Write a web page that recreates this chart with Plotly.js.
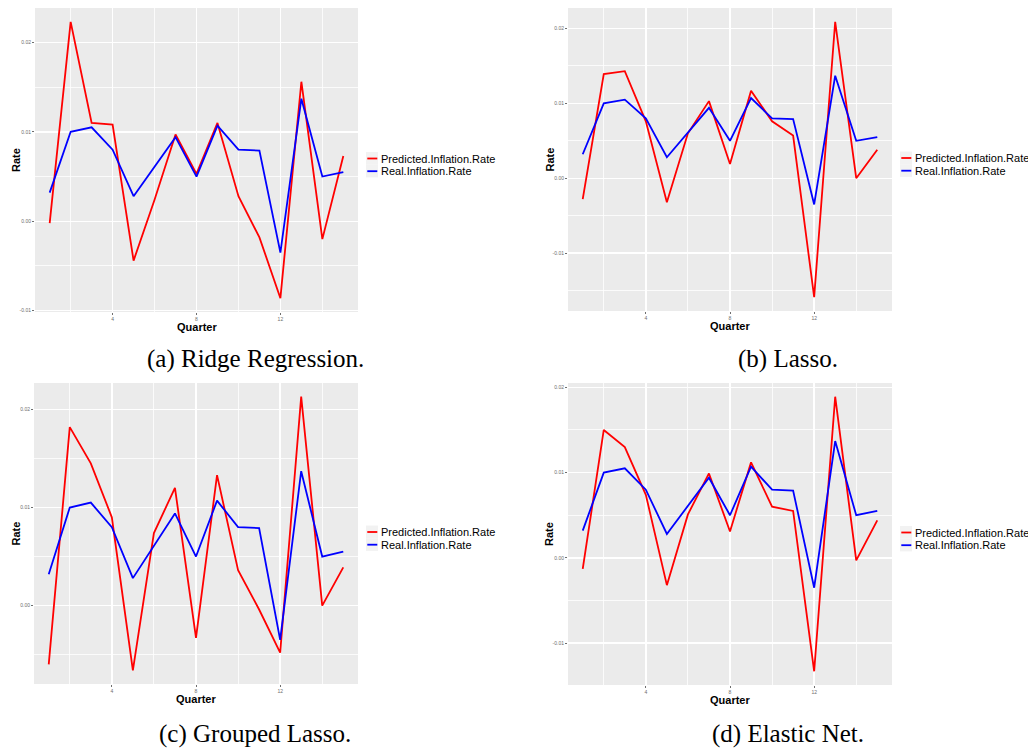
<!DOCTYPE html>
<html>
<head>
<meta charset="utf-8">
<script src="https://cdn.plot.ly/plotly-3.0.1.min.js"></script>
<style>
  html, body { margin: 0; padding: 0; background: #ffffff; }
  #chart { width: 1028px; height: 749px; }
</style>
</head>
<body>
<div id="chart"></div>
<script>
// Quarterly inflation: real rate versus the rate predicted by four regularised models
const quarters = [1, 2, 3, 4, 5, 6, 7, 8, 9, 10, 11, 12, 13, 14, 15];

const realRate = [0.0032, 0.0100, 0.0105, 0.0080, 0.0028, 0.0061, 0.0094, 0.0050,
                  0.0107, 0.0080, 0.0079, -0.0035, 0.0137, 0.0050, 0.0055];

const ridgePred = [-0.0002, 0.0223, 0.0110, 0.0108, -0.0044, 0.0024, 0.0097, 0.0053,
                   0.0110, 0.0028, -0.0018, -0.0086, 0.0156, -0.0020, 0.0073];

const lassoPred = [-0.0028, 0.0139, 0.0143, 0.0076, -0.0032, 0.0060, 0.0103, 0.0019,
                   0.0117, 0.0076, 0.0057, -0.0159, 0.0209, 0.0000, 0.0038];

const groupedLassoPred = [-0.0060, 0.0182, 0.0145, 0.0090, -0.0066, 0.0074, 0.0120, -0.0033,
                          0.0133, 0.0036, -0.0004, -0.0048, 0.0213, 0.0000, 0.0039];

const elasticNetPred = [-0.0013, 0.0150, 0.0130, 0.0074, -0.0032, 0.0051, 0.0099, 0.0031,
                        0.0112, 0.0060, 0.0055, -0.0133, 0.0189, -0.0003, 0.0044];

const seriesNames = ['Predicted.Inflation.Rate', 'Real.Inflation.Rate'];
const seriesColors = ['#FF0000', '#0000FF'];

const captions = ['(a) Ridge Regression.', '(b) Lasso.', '(c) Grouped Lasso.', '(d) Elastic Net.'];
const xTitle = 'Quarter';
const yTitle = 'Rate';

const xTickVals = [4, 8, 12];
const xTickText = ['4', '8', '12'];
const xMinorVals = [2, 6, 10, 14];
const yTickVals = [-0.01, 0, 0.01, 0.02];
const yTickText = ['-0.01', '0.00', '0.01', '0.02'];
const yMinorVals = [-0.015, -0.005, 0.005, 0.015];

const predictions = [ridgePred, lassoPred, groupedLassoPred, elasticNetPred];

// ---- page geometry (pixels) ----
const W = 1028, H = 749;
// each panel: [left, right, top, bottom] of the plotting area
const panels = [
  [35, 358, 8, 312],
  [568, 892, 8, 311],
  [34, 358, 383, 684],
  [568, 892, 383, 685]
];
const px = v => v / W;
const py = v => 1 - v / H;

const tickFont = { family: 'Liberation Sans, Arial, sans-serif', size: 5, color: '#6e6e6e' };
const titleFont = { family: 'Liberation Sans, Arial, sans-serif', size: 11, color: '#000000', weight: 'bold' };
const legendFont = { family: 'Liberation Sans, Arial, sans-serif', size: 11, color: '#000000' };
const captionFont = { family: 'Liberation Serif, Times New Roman, serif', size: 25, color: '#000000' };

const traces = [];
const layout = {
  width: W, height: H,
  autosize: false,
  margin: { l: 0, r: 0, t: 0, b: 0, pad: 0 },
  paper_bgcolor: '#ffffff',
  plot_bgcolor: '#EBEBEB',
  showlegend: false,
  shapes: [],
  annotations: []
};

function label(x, y, text, font, opts) {
  return Object.assign({
    xref: 'paper', yref: 'paper', x: px(x), y: py(y),
    xanchor: 'center', yanchor: 'middle',
    text: text, showarrow: false, font: font,
    borderpad: 0, borderwidth: 0
  }, opts || {});
}

panels.forEach((p, i) => {
  const n = i + 1;
  const sfx = n === 1 ? '' : String(n);
  const xa = 'x' + sfx, ya = 'y' + sfx;
  const pred = predictions[i];

  // predicted first, real drawn on top
  [pred, realRate].forEach((vals, k) => {
    traces.push({
      type: 'scatter', mode: 'lines',
      x: quarters, y: vals,
      name: seriesNames[k],
      line: { color: seriesColors[k], width: 1.8 },
      xaxis: xa, yaxis: ya,
      hoverinfo: 'skip'
    });
  });

  // ggplot-style 5% expansion of the data range
  const all = pred.concat(realRate);
  const lo = Math.min(...all), hi = Math.max(...all);
  const padY = (hi - lo) * 0.05;
  const xlo = Math.min(...quarters), xhi = Math.max(...quarters);
  const padX = (xhi - xlo) * 0.05;

  layout['xaxis' + sfx] = {
    domain: [px(p[0]), px(p[1])],
    anchor: ya,
    range: [xlo - padX, xhi + padX],
    tickmode: 'array', tickvals: xTickVals, ticktext: xTickText,
    ticks: 'outside', ticklen: 2, tickwidth: 1, tickcolor: '#6e6e6e',
    tickfont: tickFont,
    showgrid: true, gridcolor: '#ffffff', gridwidth: 1.4,
    minor: { tickvals: xMinorVals, showgrid: true, gridcolor: '#ffffff', gridwidth: 0.8, ticks: '' },
    zeroline: false, showline: false, fixedrange: true
  };
  layout['yaxis' + sfx] = {
    domain: [py(p[3]), py(p[2])],
    anchor: xa,
    range: [lo - padY, hi + padY],
    tickmode: 'array', tickvals: yTickVals, ticktext: yTickText,
    ticks: 'outside', ticklen: 2, tickwidth: 1, tickcolor: '#6e6e6e',
    tickfont: tickFont,
    showgrid: true, gridcolor: '#ffffff', gridwidth: 1.4,
    minor: { tickvals: yMinorVals, showgrid: true, gridcolor: '#ffffff', gridwidth: 0.8, ticks: '' },
    zeroline: false, showline: false, fixedrange: true
  };

  // axis titles
  layout.annotations.push(label((p[0] + p[1]) / 2, p[3] + 14.5, xTitle, titleFont));
  layout.annotations.push(label(p[0] - 19, (p[2] + p[3]) / 2, yTitle, titleFont, { textangle: -90 }));

  // legend to the right of each panel
  const keyX = p[1] + 8;
  const keyY0 = (p[2] + p[3]) / 2 - 8;
  seriesNames.forEach((name, k) => {
    const top = keyY0 + k * 12.7;
    layout.shapes.push({
      type: 'rect', xref: 'paper', yref: 'paper',
      x0: px(keyX), x1: px(keyX + 12), y0: py(top + 12.7), y1: py(top),
      fillcolor: '#F2F2F2', line: { width: 0 }, layer: 'below'
    });
    layout.shapes.push({
      type: 'line', xref: 'paper', yref: 'paper',
      x0: px(keyX + 1.3), x1: px(keyX + 11.3), y0: py(top + 6.5), y1: py(top + 6.5),
      line: { color: seriesColors[k], width: 1.8 }
    });
    layout.annotations.push(label(keyX + 14.5, top + 6.5, name, legendFont, { xanchor: 'left' }));
  });

  // caption under each panel
  const capX = i % 2 === 0 ? 255 : 788;
  layout.annotations.push(label(capX, p[2] + 351, captions[i], captionFont));
});

Plotly.newPlot('chart', traces, layout, { staticPlot: true, displayModeBar: false });
</script>
</body>
</html>
